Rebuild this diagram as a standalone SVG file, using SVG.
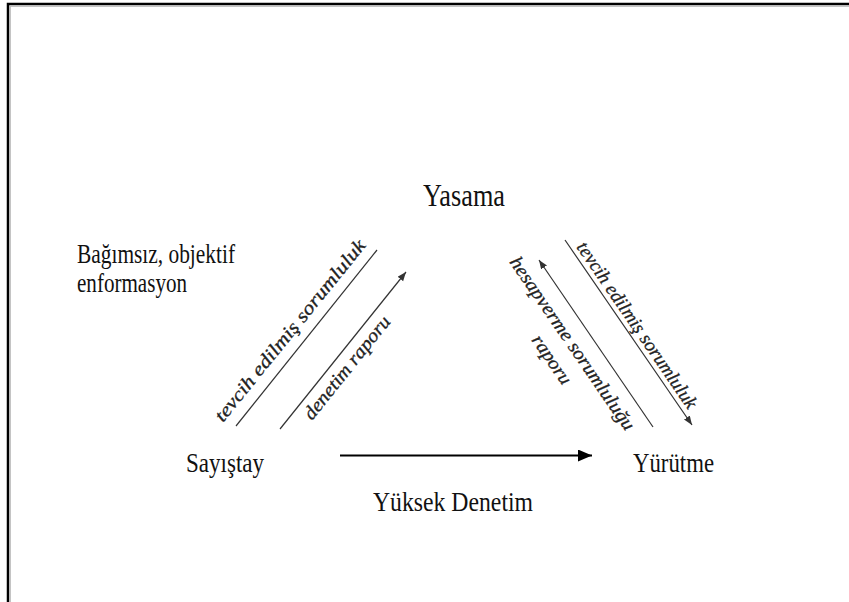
<svg xmlns="http://www.w3.org/2000/svg" width="849" height="602" viewBox="0 0 849 602">
  <style>
    .lbl { font-family: "Liberation Serif", "Times New Roman", serif; fill: #111; }
    .scan { font-family: "Liberation Serif", "Times New Roman", serif; font-style: italic; font-size: 19px; fill: #222; stroke: #222; stroke-width: 0.3; }
    .thin { stroke: #333; stroke-width: 1.2; fill: none; }
    .main { stroke: #000; stroke-width: 2; fill: none; }
  </style>
  <defs>
    <marker id="headBig" markerWidth="16" markerHeight="14" refX="14" refY="6" orient="auto" markerUnits="userSpaceOnUse">
      <path d="M0,0 L14,6 L0,12 Z" fill="#000"/>
    </marker>
    <marker id="headSmall" markerWidth="10" markerHeight="8" refX="9" refY="3.5" orient="auto" markerUnits="userSpaceOnUse">
      <path d="M0,0 L9,3.5 L0,7 Z" fill="#333"/>
    </marker>
  </defs>
  <rect width="849" height="602" fill="#fff"/>
  <g id="frame">
    <path d="M8 602 V4 H849" fill="none" stroke="#000" stroke-width="2.5"/>
    <path d="M10.2 602 V6.2 H849" fill="none" stroke="#aaa" stroke-width="1"/>
  </g>
  <g id="connectors">
    <line class="thin" x1="236" y1="426" x2="377" y2="250"/>
    <line class="thin" x1="280" y1="429" x2="406" y2="272" marker-end="url(#headSmall)"/>
    <line class="thin" x1="565" y1="240" x2="692" y2="425" marker-end="url(#headSmall)"/>
    <line class="thin" x1="653" y1="427" x2="539" y2="260" marker-end="url(#headSmall)"/>
    <line class="main" x1="340" y1="455.5" x2="592" y2="455.5" marker-end="url(#headBig)"/>
  </g>
  <g id="connector-labels">
    <text class="scan" transform="translate(223,423) rotate(-51)" textLength="228" lengthAdjust="spacingAndGlyphs">tevcih edilmiş sorumluluk</text>
    <text class="scan" transform="translate(312,421) rotate(-51.3)" textLength="127" lengthAdjust="spacingAndGlyphs">denetim raporu</text>
    <text class="scan" transform="translate(576,247) rotate(55.5)" textLength="198" lengthAdjust="spacingAndGlyphs">tevcih edilmiş sorumluluk</text>
    <text class="scan" transform="translate(509,262) rotate(55.5)" textLength="206" lengthAdjust="spacingAndGlyphs">hesapverme sorumluluğu</text>
    <text class="scan" transform="translate(531,340) rotate(55.5)" textLength="56" lengthAdjust="spacingAndGlyphs">raporu</text>
    <text class="lbl" x="373" y="511" font-size="28" textLength="160" lengthAdjust="spacingAndGlyphs">Yüksek Denetim</text>
  </g>
  <g id="node-yasama">
    <text class="lbl" x="423" y="206" font-size="31" textLength="82" lengthAdjust="spacingAndGlyphs">Yasama</text>
  </g>
  <g id="node-sayistay">
    <text class="lbl" x="186" y="472" font-size="28" textLength="78" lengthAdjust="spacingAndGlyphs">Sayıştay</text>
  </g>
  <g id="node-yurutme">
    <text class="lbl" x="633" y="472" font-size="28" textLength="81" lengthAdjust="spacingAndGlyphs">Yürütme</text>
  </g>
  <g id="note-info">
    <text class="lbl" x="77" y="263" font-size="27" textLength="158" lengthAdjust="spacingAndGlyphs">Bağımsız, objektif</text>
    <text class="lbl" x="77" y="292" font-size="27" textLength="110" lengthAdjust="spacingAndGlyphs">enformasyon</text>
  </g>
</svg>
